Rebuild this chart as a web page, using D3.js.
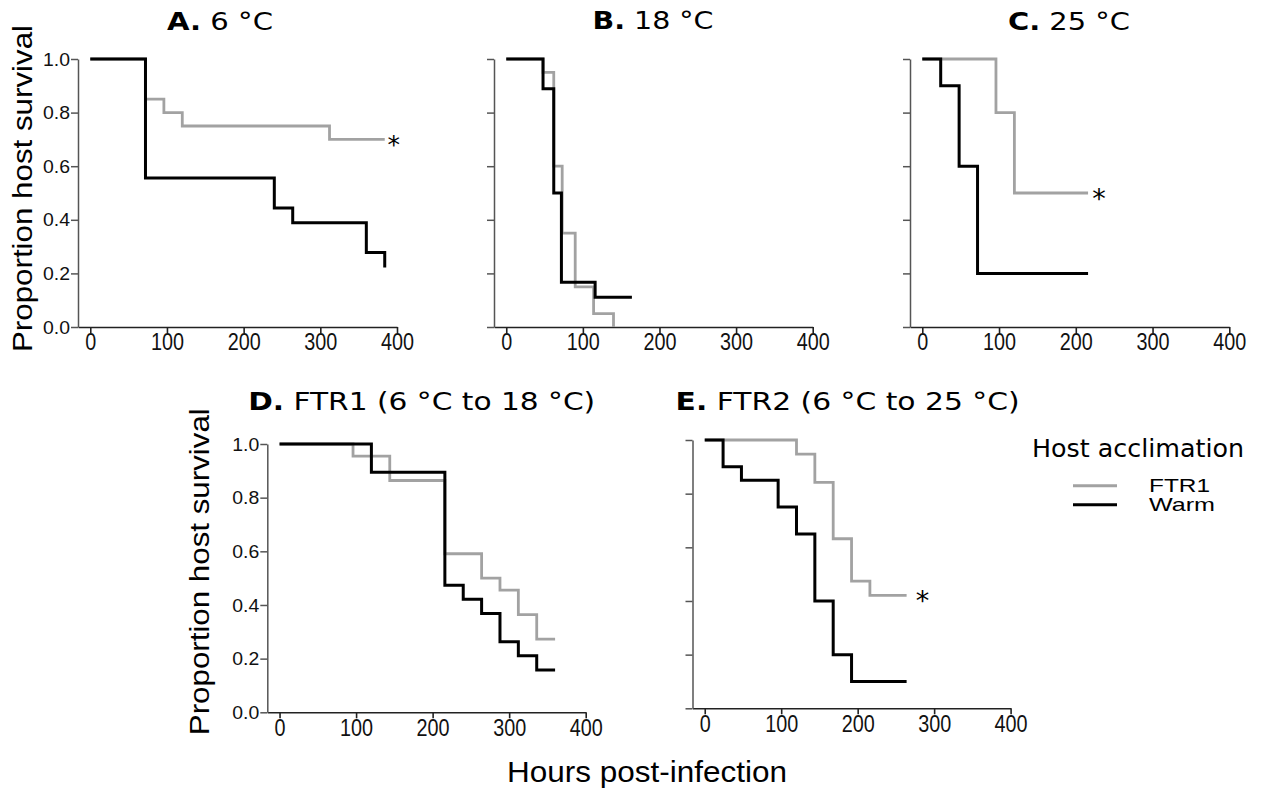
<!DOCTYPE html>
<html>
<head>
<meta charset="utf-8">
<script src="https://cdn.jsdelivr.net/npm/d3@7"></script>
<style>
  body { margin: 0; background: #fff; }
  svg { display: block; }
</style>
</head>
<body>
<svg id="chart" width="1266" height="795"></svg>
<script>
// tick values
const hourTicks = [0, 100, 200, 300, 400];
const survTicks = [0, 0.2, 0.4, 0.6, 0.8, 1.0];

const panelLetters = ["A.", "B.", "C.", "D.", "E."];
const panelNames = ["6 °C", "18 °C", "25 °C", "FTR1 (6 °C to 18 °C)", "FTR2 (6 °C to 25 °C)"];
const seriesNames = ["FTR1", "Warm"];
const significant = [true, false, true, false, true];

// survival steps: hour of each drop and proportion surviving after it
const aGreyHours = [0, 72, 96, 120, 312, 384];
const aGreySurv  = [1, 0.85, 0.80, 0.75, 0.70, 0.70];
const aWarmHours = [0, 72, 240, 264, 360, 384];
const aWarmSurv  = [1, 0.556, 0.444, 0.389, 0.278, 0.222];

const bGreyHours = [0, 48, 62, 73, 90, 114, 140];
const bGreySurv  = [1, 0.95, 0.60, 0.35, 0.15, 0.05, 0];
const bWarmHours = [0, 48, 62, 72, 116, 164];
const bWarmSurv  = [1, 0.889, 0.50, 0.167, 0.111, 0.111];

const cGreyHours = [0, 96, 120, 216];
const cGreySurv  = [1, 0.80, 0.50, 0.50];
const cWarmHours = [0, 24, 48, 72, 216];
const cWarmSurv  = [1, 0.90, 0.60, 0.20, 0.20];

const dGreyHours = [0, 96, 144, 216, 264, 288, 312, 336, 360];
const dGreySurv  = [1, 0.955, 0.864, 0.591, 0.50, 0.455, 0.364, 0.273, 0.273];
const dWarmHours = [0, 120, 216, 240, 264, 288, 312, 336, 360];
const dWarmSurv  = [1, 0.895, 0.474, 0.421, 0.368, 0.263, 0.211, 0.158, 0.158];

const eGreyHours = [0, 120, 144, 168, 192, 216, 264];
const eGreySurv  = [1, 0.947, 0.842, 0.632, 0.474, 0.421, 0.421];
const eWarmHours = [0, 24, 48, 96, 120, 144, 168, 192, 264];
const eWarmSurv  = [1, 0.90, 0.85, 0.75, 0.65, 0.40, 0.20, 0.10, 0.10];

const greySeries = [
  d3.zip(aGreyHours, aGreySurv), d3.zip(bGreyHours, bGreySurv), d3.zip(cGreyHours, cGreySurv),
  d3.zip(dGreyHours, dGreySurv), d3.zip(eGreyHours, eGreySurv)
];
const warmSeries = [
  d3.zip(aWarmHours, aWarmSurv), d3.zip(bWarmHours, bWarmSurv), d3.zip(cWarmHours, cWarmSurv),
  d3.zip(dWarmHours, dWarmSurv), d3.zip(eWarmHours, eWarmSurv)
];

const GREY = "#a2a2a2";
const BLACK = "#000";

// where each panel sits on the page
const layout = [
  {ax: 78,    x400: 397,    top: 59,  bottom: 327,   tx: 220,   ty: 30,  tw: 106, labels: true,  star: 9,  starSize: 25},
  {ax: 494,   x400: 812.7,  top: 59,  bottom: 327,   tx: 653,   ty: 29,  tw: 121, labels: false},
  {ax: 910,   x400: 1229.3, top: 59,  bottom: 327,   tx: 1069,  ty: 30,  tw: 122, labels: false, star: 11, starSize: 27},
  {ax: 267.3, x400: 585.7,  top: 444, bottom: 712.3, tx: 421.7, ty: 410, tw: 347, labels: true},
  {ax: 692.5, x400: 1010.6, top: 440, bottom: 708.3, tx: 847.6, ty: 410, tw: 344, labels: false, star: 16, starSize: 27}
];

const svg = d3.select("#chart");

panelNames.forEach(function(name, i) {
  const L = layout[i];
  const x = d3.scaleLinear().domain([-16, 400]).range([L.ax, L.x400]);
  const y = d3.scaleLinear().domain([0, 1]).range([L.bottom, L.top]);
  const g = svg.append("g").attr("class", "panel");

  // axes
  const xa = g.append("g")
    .attr("transform", `translate(0,${L.bottom})`)
    .call(d3.axisBottom(x).tickValues(hourTicks).tickSize(6).tickSizeOuter(0).tickPadding(1));
  xa.selectAll("path, line").attr("stroke", "#222").attr("stroke-width", 1.6);
  xa.selectAll("text")
    .attr("fill", "#111")
    .style("font-family", "'Liberation Sans', Arial, sans-serif")
    .style("font-size", "23px")
    .attr("textLength", d => String(d).length * 11)
    .attr("lengthAdjust", "spacingAndGlyphs");

  const ya = g.append("g")
    .attr("transform", `translate(${L.ax},0)`)
    .call(d3.axisLeft(y).tickValues(survTicks).tickSize(7).tickSizeOuter(0).tickPadding(1)
      .tickFormat(L.labels ? d3.format(".1f") : ""));
  ya.selectAll("path, line").attr("stroke", "#555").attr("stroke-width", 1.5);
  ya.selectAll("text")
    .attr("fill", "#111")
    .style("font-family", "'Liberation Sans', Arial, sans-serif")
    .style("font-size", "19px")
    .attr("textLength", 27)
    .attr("lengthAdjust", "spacingAndGlyphs");

  // curves
  const step = d3.line().x(d => x(d[0])).y(d => y(d[1])).curve(d3.curveStepAfter);
  g.append("path").datum(greySeries[i])
    .attr("d", step).attr("fill", "none").attr("stroke", GREY).attr("stroke-width", 2.8);
  g.append("path").datum(warmSeries[i])
    .attr("d", step).attr("fill", "none").attr("stroke", BLACK).attr("stroke-width", 3);

  if (significant[i]) {
    const last = greySeries[i][greySeries[i].length - 1];
    g.append("text")
      .attr("x", x(last[0]) + L.star)
      .attr("y", y(last[1]))
      .attr("dy", "0.56em")
      .attr("text-anchor", "middle")
      .style("font-family", "'DejaVu Sans', sans-serif")
      .style("font-size", L.starSize + "px")
      .text("*");
  }

  // title
  const t = g.append("text")
    .attr("x", L.tx).attr("y", L.ty)
    .attr("text-anchor", "middle")
    .attr("textLength", L.tw)
    .attr("lengthAdjust", "spacingAndGlyphs")
    .style("font-family", "'DejaVu Sans', Verdana, sans-serif")
    .style("font-size", "24px");
  t.append("tspan").style("font-weight", "bold").text(panelLetters[i]);
  t.append("tspan").text(" " + name);
});

// axis titles
const yTitles = [[32, 188.5], [209, 571.7]];
svg.selectAll(".ytitle").data(yTitles).enter().append("text")
  .attr("class", "ytitle")
  .attr("transform", d => `translate(${d[0]},${d[1]}) rotate(-90)`)
  .attr("text-anchor", "middle")
  .attr("textLength", 327)
  .attr("lengthAdjust", "spacingAndGlyphs")
  .style("font-family", "'Liberation Sans', Arial, sans-serif")
  .style("font-size", "27px")
  .text("Proportion host survival");

svg.append("text")
  .attr("x", 647).attr("y", 782)
  .attr("text-anchor", "middle")
  .attr("textLength", 280)
  .attr("lengthAdjust", "spacingAndGlyphs")
  .style("font-family", "'Liberation Sans', Arial, sans-serif")
  .style("font-size", "29px")
  .text("Hours post-infection");

// legend
const legend = svg.append("g").attr("transform", "translate(1032,0)");
legend.append("text")
  .attr("x", 0).attr("y", 457)
  .attr("textLength", 212)
  .attr("lengthAdjust", "spacingAndGlyphs")
  .style("font-family", "'DejaVu Sans', Verdana, sans-serif")
  .style("font-size", "24px")
  .text("Host acclimation");

const items = legend.selectAll(".item").data(seriesNames).enter().append("g")
  .attr("class", "item")
  .attr("transform", (d, i) => `translate(0,${485.7 + i * 19})`);
items.append("line")
  .attr("x1", 41).attr("x2", 85)
  .attr("stroke", (d, i) => i === 0 ? GREY : BLACK)
  .attr("stroke-width", 3);
items.append("text")
  .attr("x", 117).attr("y", 6)
  .attr("textLength", (d, i) => i === 0 ? 61 : 66)
  .attr("lengthAdjust", "spacingAndGlyphs")
  .style("font-family", "'Liberation Sans', Arial, sans-serif")
  .style("font-size", "19px")
  .text(d => d);
</script>
</body>
</html>
